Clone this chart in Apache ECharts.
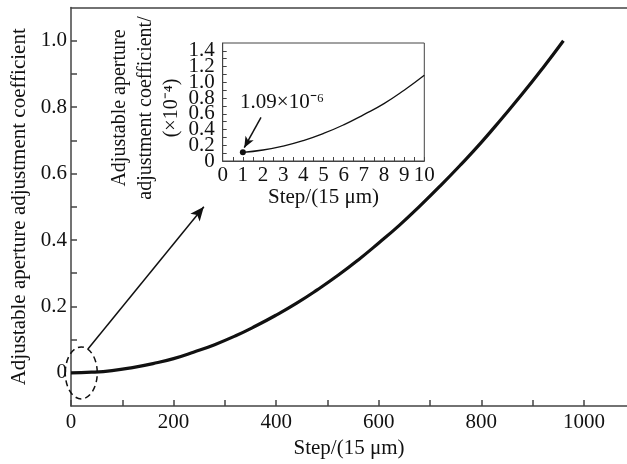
<!DOCTYPE html>
<html>
<head>
<meta charset="utf-8">
<script src="https://cdn.jsdelivr.net/npm/echarts@6/dist/echarts.min.js"></script>
<style>
  html, body { margin: 0; padding: 0; background: #fff; }
  #chart { width: 627px; height: 464px; }
</style>
</head>
<body>
<div id="chart"></div>
<script>
// main curve: step vs coefficient
const stepX = [0, 40, 80, 120, 160, 200, 240, 280, 320, 360, 400, 440, 480,
  520, 560, 600, 640, 680, 720, 760, 800, 840, 880, 920, 960];
const coefY = [0, 0.002, 0.007, 0.016, 0.028, 0.043, 0.063, 0.085, 0.111, 0.141,
  0.174, 0.210, 0.250, 0.293, 0.340, 0.391, 0.444, 0.502, 0.563, 0.627, 0.694,
  0.766, 0.840, 0.918, 1.0];
const mainXLabels = [0, 200, 400, 600, 800, 1000];
const mainXTicks = [0, 100, 200, 300, 400, 500, 600, 700, 800, 900, 1000];
const mainYLabels = [0, 0.2, 0.4, 0.6, 0.8, 1.0];
const mainYTicks = [0, 0.1, 0.2, 0.3, 0.4, 0.5, 0.6, 0.7, 0.8, 0.9, 1.0];

// inset: first 10 steps, in units of 1e-4
const insetX = [1, 2, 3, 4, 5, 6, 7, 8, 9, 10];
const insetY = [0.11, 0.14, 0.19, 0.26, 0.35, 0.46, 0.59, 0.73, 0.90, 1.09];
const insetXLabels = [0, 1, 2, 3, 4, 5, 6, 7, 8, 9, 10];
const insetXTicks = [0, 0.5, 1, 1.5, 2, 2.5, 3, 3.5, 4, 4.5, 5, 5.5, 6, 6.5, 7, 7.5, 8, 8.5, 9, 9.5, 10];
const insetYLabels = [0, 0.2, 0.4, 0.6, 0.8, 1.0, 1.2, 1.4];
const insetYTicks = [0, 0.1, 0.2, 0.3, 0.4, 0.5, 0.6, 0.7, 0.8, 0.9, 1.0, 1.1, 1.2, 1.3, 1.4];

const FONT = "'Liberation Serif', 'Times New Roman', serif";
const AXIS_COLOR = "#444";
const TEXT_COLOR = "#111";

let myChart = echarts.init(document.getElementById("chart"));

let mainData = stepX.map((x, i) => [x, coefY[i]]);
let insetData = insetX.map((x, i) => [x, insetY[i]]);
// inset y labels are packed tight; split over two axes so none get hidden
let insetYLabelsA = insetYLabels.filter((v, i) => i % 2 === 0);
let insetYLabelsB = insetYLabels.filter((v, i) => i % 2 === 1);

let insetYLabelStyle = {
  margin: 8,
  fontFamily: FONT,
  fontSize: 21,
  color: TEXT_COLOR,
  showMinLabel: true,
  showMaxLabel: true,
  formatter: v => (v === 0 ? "0" : v.toFixed(1))
};

let option = {
  animation: false,
  textStyle: { fontFamily: FONT, color: TEXT_COLOR },
  grid: [
    { left: 71, top: 7.5, right: 0, bottom: 55 },
    {
      left: 222.7, top: 43, width: 201.6, height: 118,
      show: true, backgroundColor: "#fff", borderColor: AXIS_COLOR, borderWidth: 1
    }
  ],
  xAxis: [
    {
      gridIndex: 0,
      type: "value",
      min: 0,
      max: 1084,
      name: "Step/(15 μm)",
      nameLocation: "middle",
      nameGap: 29,
      nameTextStyle: { fontFamily: FONT, fontSize: 21, color: TEXT_COLOR },
      axisLine: { show: true, onZero: false, lineStyle: { color: AXIS_COLOR, width: 1.5 } },
      axisTick: { show: true, inside: true, length: 6, customValues: mainXTicks, lineStyle: { color: AXIS_COLOR, width: 1.5 } },
      axisLabel: {
        customValues: mainXLabels,
        margin: 6,
        fontFamily: FONT,
        fontSize: 21,
        color: TEXT_COLOR,
        formatter: v => String(v)
      },
      splitLine: { show: false }
    },
    {
      gridIndex: 0,
      type: "value",
      position: "top",
      min: 0,
      max: 1084,
      axisLine: { show: true, onZero: false, lineStyle: { color: AXIS_COLOR, width: 1.5 } },
      axisTick: { show: false },
      axisLabel: { show: false },
      splitLine: { show: false }
    },
    {
      gridIndex: 1,
      type: "value",
      min: 0,
      max: 10,
      name: "Step/(15 μm)",
      nameLocation: "middle",
      nameGap: 26,
      nameTextStyle: { fontFamily: FONT, fontSize: 21, color: TEXT_COLOR },
      axisLine: { show: true, onZero: false, lineStyle: { color: AXIS_COLOR, width: 1 } },
      axisTick: { show: true, inside: true, length: 4, customValues: insetXTicks, lineStyle: { color: AXIS_COLOR } },
      axisLabel: {
        customValues: insetXLabels,
        margin: 4,
        fontFamily: FONT,
        fontSize: 21,
        color: TEXT_COLOR,
        showMinLabel: true,
        showMaxLabel: true
      },
      splitLine: { show: false }
    }
  ],
  yAxis: [
    {
      gridIndex: 0,
      type: "value",
      min: -0.1,
      max: 1.1,
      name: "Adjustable aperture adjustment coefficient",
      nameLocation: "middle",
      nameGap: 33,
      nameTextStyle: { fontFamily: FONT, fontSize: 21, color: TEXT_COLOR },
      axisLine: { show: true, onZero: false, lineStyle: { color: AXIS_COLOR, width: 1.5 } },
      axisTick: { show: true, inside: true, length: 6, customValues: mainYTicks, lineStyle: { color: AXIS_COLOR, width: 1.5 } },
      axisLabel: {
        customValues: mainYLabels,
        margin: 4,
        fontFamily: FONT,
        fontSize: 21,
        color: TEXT_COLOR,
        formatter: v => (v === 0 ? "0" : v.toFixed(1))
      },
      splitLine: { show: false }
    },
    {
      gridIndex: 1,
      type: "value",
      min: 0,
      max: 1.5,
      name: "Adjustable aperture\nadjustment coefficient/\n(×10⁻⁴)",
      nameLocation: "middle",
      nameGap: 37,
      nameTextStyle: { fontFamily: FONT, fontSize: 20, lineHeight: 26, color: TEXT_COLOR, padding: [0, 12, 0, 0] },
      axisLine: { show: true, onZero: false, lineStyle: { color: AXIS_COLOR, width: 1 } },
      axisTick: { show: true, inside: true, length: 4, customValues: insetYTicks, lineStyle: { color: AXIS_COLOR } },
      axisLabel: Object.assign({ customValues: insetYLabelsA }, insetYLabelStyle),
      splitLine: { show: false }
    },
    {
      gridIndex: 1,
      type: "value",
      position: "left",
      offset: 0,
      min: 0,
      max: 1.5,
      axisLine: { show: false },
      axisTick: { show: false },
      axisLabel: Object.assign({ customValues: insetYLabelsB }, insetYLabelStyle),
      splitLine: { show: false }
    }
  ],
  series: [
    {
      type: "line",
      xAxisIndex: 0,
      yAxisIndex: 0,
      data: mainData,
      smooth: true,
      showSymbol: false,
      lineStyle: { color: "#111", width: 3.2 },
      z: 3,
      markLine: {
        silent: true,
        symbol: ["none", "arrow"],
        symbolSize: [9, 14],
        label: { show: false },
        lineStyle: { color: "#111", width: 1.5, type: "solid" },
        data: [[{ coord: [33, 0.072] }, { coord: [259, 0.5] }]]
      }
    },
    {
      type: "line",
      xAxisIndex: 2,
      yAxisIndex: 1,
      data: insetData,
      smooth: true,
      showSymbol: false,
      lineStyle: { color: "#111", width: 1.3 },
      z: 5,
      markPoint: {
        silent: true,
        symbol: "circle",
        symbolSize: 6,
        itemStyle: { color: "#111" },
        label: { show: false },
        data: [{ coord: insetData[0] }]
      },
      markLine: {
        silent: true,
        symbol: ["none", "arrow"],
        symbolSize: [7, 11],
        label: { show: false },
        lineStyle: { color: "#111", width: 1.5, type: "solid" },
        data: [[{ coord: [1.9, 0.555] }, { coord: [1.07, 0.17] }]]
      }
    }
  ]
};

myChart.setOption(option, true);

// dashed ellipse round the origin, and the value label of the inset point
let c = myChart.convertToPixel({ gridIndex: 0 }, [20, 0]);
let t = myChart.convertToPixel({ gridIndex: 1 }, [0.86, 0.75]);
myChart.setOption({
  graphic: [
    {
      type: "ellipse",
      shape: { cx: c[0], cy: c[1], rx: 16, ry: 26 },
      style: { fill: "none", stroke: "#111", lineWidth: 1.5, lineDash: [6, 4] },
      z: 10
    },
    {
      type: "text",
      x: t[0],
      y: t[1],
      style: {
        text: "1.09×10⁻⁶",
        fontFamily: FONT,
        fontSize: 21,
        fill: TEXT_COLOR,
        align: "left",
        verticalAlign: "middle"
      },
      z: 10
    }
  ]
});

window.addEventListener("resize", () => {
  myChart.resize();
});
</script>
</body>
</html>
